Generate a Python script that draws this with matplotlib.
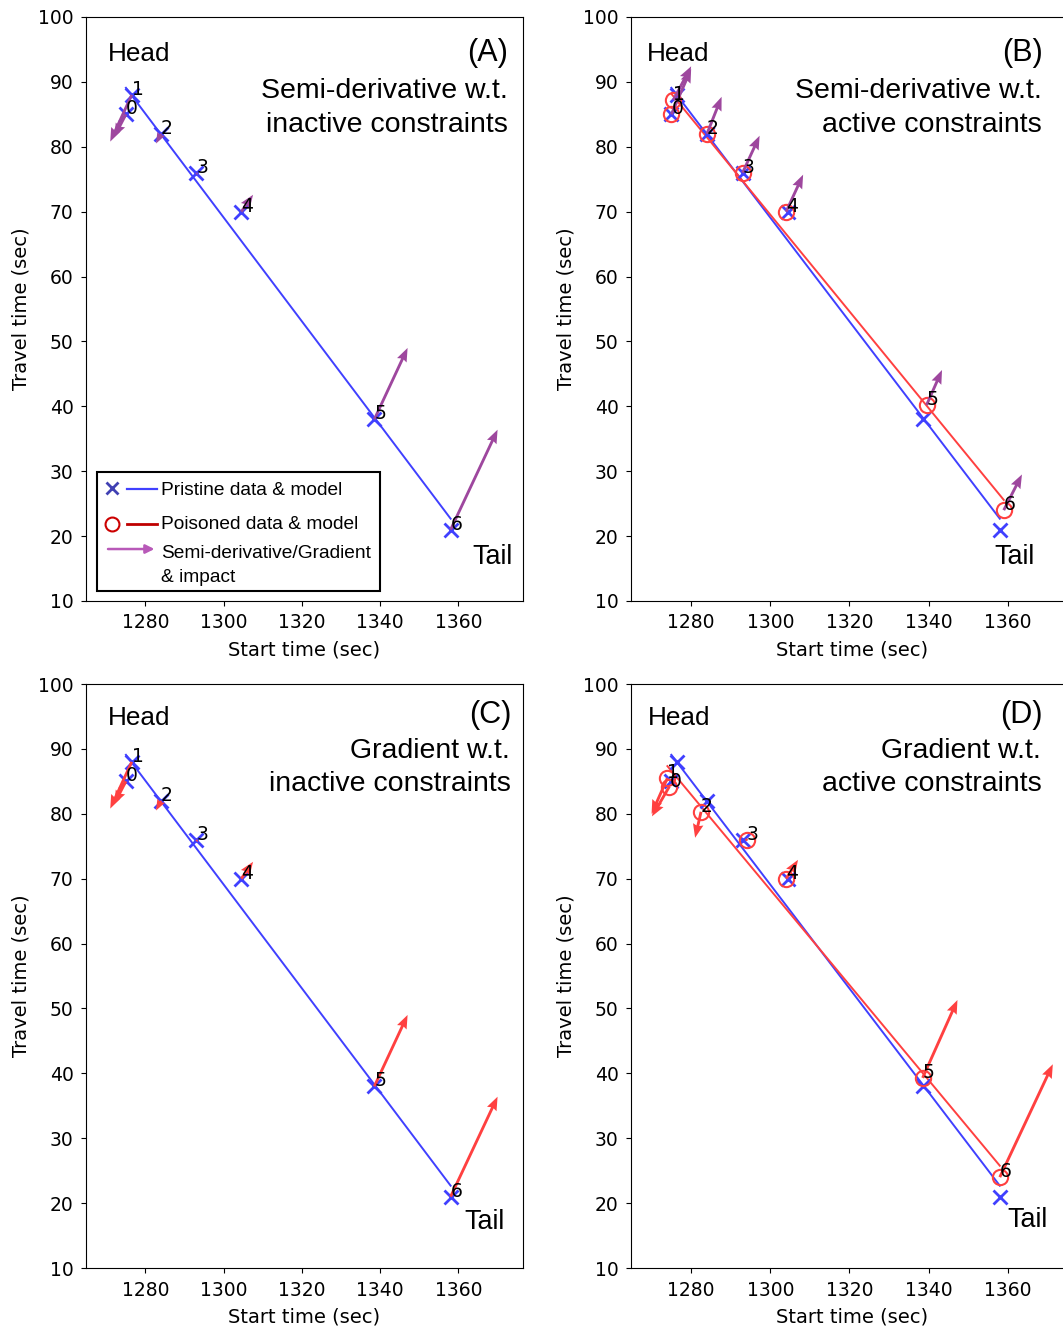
import numpy as np
import matplotlib.pyplot as plt

# data
start_pristine = [1275, 1276.5, 1284, 1293, 1304.5, 1338.5, 1358]
travel_pristine = [85, 88, 82, 76, 70, 38, 21]

start_poison_b = [1275, 1275.5, 1284, 1293, 1304, 1339.5, 1359]
travel_poison_b = [85, 87.2, 82, 76, 70, 40.2, 24]

start_poison_d = [1274.5, 1274, 1282.5, 1294, 1304, 1338.5, 1358]
travel_poison_d = [84.2, 85.5, 80.3, 76, 70, 39.3, 24]

# semi-derivative / gradient vectors at each point
du_inactive = [-3, -5.5, -1.3, 0.4, 3, 8.5, 12]
dv_inactive = [-3.5, -7.2, -1.5, -0.4, 2.6, 11, 15.4]
du_semi_active = [5, 4.5, 3.7, 4.3, 4.3, 3.9, 4.6]
dv_semi_active = [7, 5.2, 5.7, 5.7, 5.7, 5.4, 5.5]
du_grad_active = [-4.4, -4, -1.5, 0.3, 3, 8.8, 13.4]
dv_grad_active = [-4.6, -5.5, -4, 0.3, 2.9, 12, 17.4]

x_ticks = [1280, 1300, 1320, 1340, 1360]
y_ticks = [10, 20, 30, 40, 50, 60, 70, 80, 90, 100]

BLUE = (0.25, 0.25, 1.0)
RED = (1.0, 0.25, 0.25)
PURPLE = (0.62, 0.28, 0.62)
SANS = 'Liberation Sans'

W, H = 1063, 1328
fig = plt.figure(figsize=(W / 100, H / 100), dpi=100)


def fit_line(x, y):
    k, b = np.polyfit(x, y, 1)
    xs = np.array([min(x), max(x)])
    return xs, k * xs + b


def draw_panel(rect, poison, du, dv, acol, tag, line1, line2, txt):
    ax = fig.add_axes(rect)
    px, py = fit_line(start_pristine, travel_pristine)
    ax.plot(px, py, color=BLUE, lw=1.4, zorder=2)
    ax.plot(start_pristine, travel_pristine, 'x', color=BLUE, ms=9.5, mew=2, zorder=3)
    if poison is not None:
        qx, qy = poison
        lx, ly = fit_line(qx, qy)
        ax.plot(lx, ly, color=RED, lw=1.4, zorder=2)
        ax.plot(qx, qy, 'o', mfc='none', mec=RED, ms=11, mew=1.5, zorder=3)
    else:
        qx, qy = start_pristine, travel_pristine
    ax.quiver(qx, qy, du, dv, angles='xy', scale_units='xy', scale=1,
              color=acol, width=0.0065, headwidth=3.7, headlength=4.8,
              headaxislength=4.3, zorder=4)
    for i, (x, y) in enumerate(zip(qx, qy)):
        ax.text(x, y, str(i), fontsize=13.5, zorder=5)

    ax.set_xlim(1264.8, 1376.5)
    ax.set_ylim(10, 100)
    ax.set_xticks(x_ticks)
    ax.set_yticks(y_ticks)
    ax.tick_params(labelsize=13.5, pad=5.5)
    ax.set_xlabel('Start time (sec)', fontsize=14, labelpad=6)
    ax.set_ylabel('Travel time (sec)', fontsize=14, labelpad=5)

    (hx, hy), (tx, ty), (l1x, l1y), (l2x, l2y), (kx, ky) = txt
    ax.text(hx, hy, 'Head', transform=ax.transAxes, fontsize=18.8, family=SANS)
    ax.text(tx, ty, tag, transform=ax.transAxes, fontsize=22, family=SANS, ha='right')
    ax.text(l1x, l1y, line1, transform=ax.transAxes, fontsize=20.5, family=SANS, ha='right')
    ax.text(l2x, l2y, line2, transform=ax.transAxes, fontsize=20.5, family=SANS, ha='right')
    ax.text(kx, ky, 'Tail', transform=ax.transAxes, fontsize=19.4, family=SANS, ha='right')
    return ax


top_b = 1 - 601 / H
bot_b = 1 - 1268 / H
ah = 584 / H

ax_a = draw_panel([86 / W, top_b, 437 / W, ah], None, du_inactive, dv_inactive, PURPLE,
                  '(A)', 'Semi-derivative w.t.', 'inactive constraints',
                  [(0.05, 0.924), (0.966, 0.924), (0.966, 0.862), (0.966, 0.803), (0.977, 0.064)])
draw_panel([631 / W, top_b, 442 / W, ah], (start_poison_b, travel_poison_b),
           du_semi_active, dv_semi_active, PURPLE,
           '(B)', 'Semi-derivative w.t.', 'active constraints',
           [(0.036, 0.924), (0.932, 0.924), (0.930, 0.862), (0.930, 0.803), (0.914, 0.064)])
draw_panel([86 / W, bot_b, 437 / W, ah], None, du_inactive, dv_inactive, RED,
           '(C)', 'Gradient w.t.', 'inactive constraints',
           [(0.05, 0.930), (0.973, 0.934), (0.970, 0.874), (0.973, 0.816), (0.959, 0.067)])
draw_panel([631 / W, bot_b, 442 / W, ah], (start_poison_d, travel_poison_d),
           du_grad_active, dv_grad_active, RED,
           '(D)', 'Gradient w.t.', 'active constraints',
           [(0.038, 0.930), (0.932, 0.934), (0.928, 0.874), (0.930, 0.816), (0.943, 0.070)])

# hand-drawn legend box in panel A
tr = ax_a.transAxes
ax_a.add_patch(plt.Rectangle((0.025, 0.017), 0.648, 0.204, transform=tr,
                             fill=True, fc='white', ec='black', lw=1.5, zorder=6))
ax_a.plot([0.06], [0.193], 'x', color=(0.25, 0.25, 0.7), ms=8, mew=2, transform=tr, zorder=7)
ax_a.plot([0.094, 0.163], [0.191, 0.191], color=BLUE, lw=1.6, transform=tr, zorder=7)
ax_a.plot([0.06], [0.131], 'o', mfc='none', mec=(0.8, 0, 0), ms=10, mew=1.5, transform=tr, zorder=7)
ax_a.plot([0.094, 0.163], [0.131, 0.131], color=(0.75, 0, 0), lw=2, transform=tr, zorder=7)
ax_a.annotate('', xy=(0.163, 0.089), xytext=(0.044, 0.089), xycoords=tr,
              arrowprops=dict(arrowstyle='-|>', color=(0.72, 0.35, 0.72), lw=1.8,
                              mutation_scale=13), zorder=7)
leg_txt = dict(transform=tr, fontsize=13.8, family=SANS, va='center', zorder=7)
ax_a.text(0.172, 0.190, 'Pristine data & model', **leg_txt)
ax_a.text(0.172, 0.131, 'Poisoned data & model', **leg_txt)
ax_a.text(0.172, 0.081, 'Semi-derivative/Gradient', **leg_txt)
ax_a.text(0.172, 0.040, '& impact', **leg_txt)

fig.savefig('out.png', dpi=100)
